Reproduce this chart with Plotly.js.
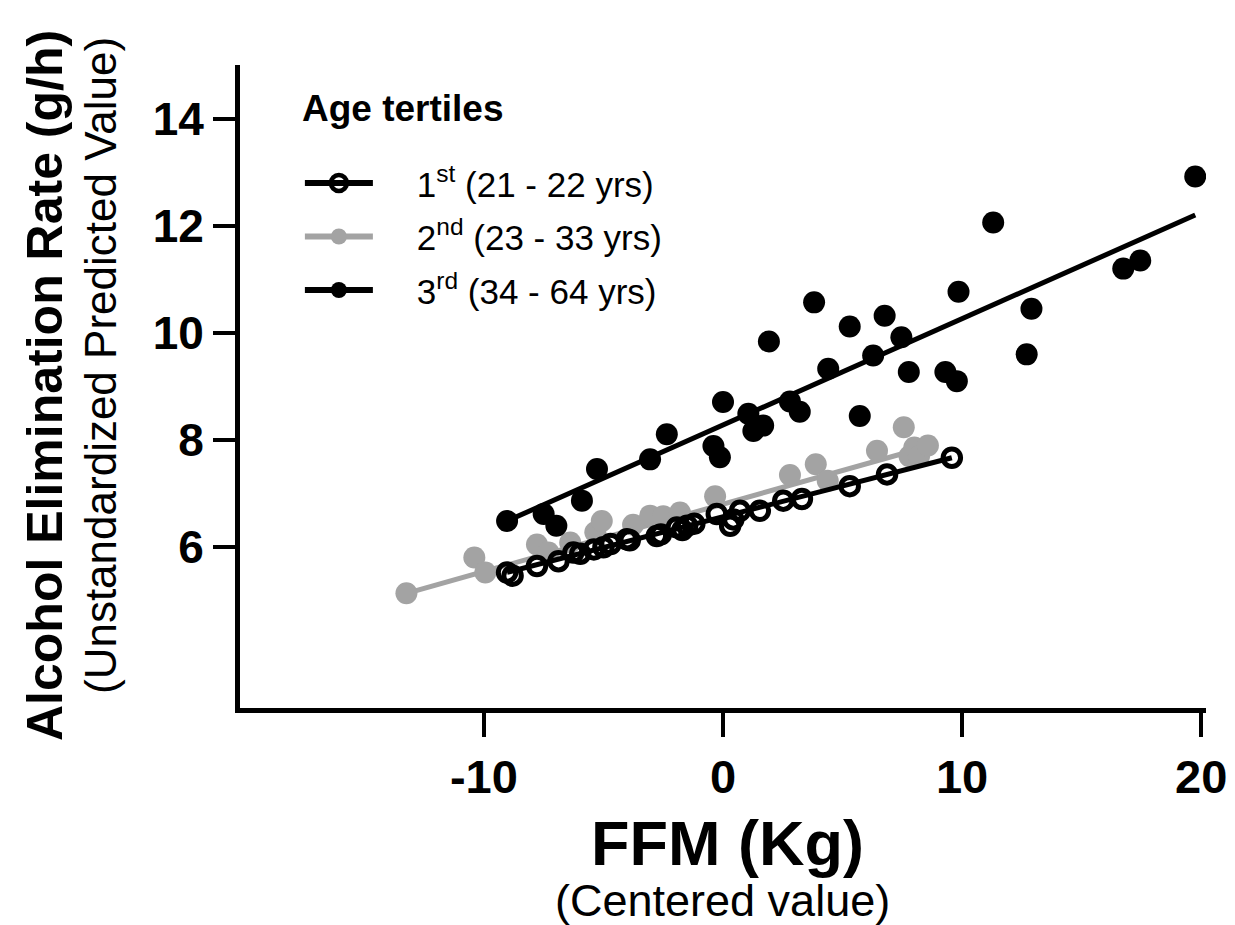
<!DOCTYPE html>
<html>
<head>
<meta charset="utf-8">
<script src="https://cdn.plot.ly/plotly-3.0.1.min.js"></script>
<style>html,body{margin:0;padding:0;background:#fff;}#chart{width:1235px;height:925px;}</style>
</head>
<body>
<div id="chart"></div>
<script>
// ---- Data ----
const seriesNames = ["1<sup>st</sup> (21 - 22 yrs)", "2<sup>nd</sup> (23 - 33 yrs)", "3<sup>rd</sup> (34 - 64 yrs)"];

const t1_x = [-9.03, -8.8, -7.78, -6.88, -6.26, -5.97, -5.4, -5.0, -4.7, -4.02, -3.9, -2.77, -2.6, -1.93, -1.7, -1.5, -1.2, -0.26, 0.3, 0.43, 0.71, 1.54, 2.52, 3.3, 5.3, 6.86, 9.57];
const t1_y = [5.53, 5.47, 5.65, 5.74, 5.9, 5.88, 5.96, 6.0, 6.06, 6.15, 6.13, 6.21, 6.24, 6.37, 6.32, 6.4, 6.44, 6.62, 6.4, 6.52, 6.68, 6.68, 6.87, 6.9, 7.14, 7.36, 7.67];

const t2_x = [-13.24, -10.4, -9.94, -7.78, -7.3, -6.39, -5.34, -5.07, -3.76, -3.05, -2.5, -1.8, -0.33, 2.8, 3.88, 4.38, 6.44, 7.56, 7.8, 8.0, 8.2, 8.57];
const t2_y = [5.14, 5.81, 5.53, 6.05, 5.9, 6.09, 6.28, 6.49, 6.42, 6.59, 6.58, 6.65, 6.95, 7.35, 7.55, 7.24, 7.8, 8.24, 7.7, 7.86, 7.7, 7.9];

const t3_x = [-9.03, -7.5, -6.97, -5.9, -5.27, -3.05, -2.35, -0.4, -0.13, 0.0, 1.06, 1.27, 1.68, 1.92, 2.8, 3.21, 3.81, 4.4, 5.3, 5.72, 6.28, 6.76, 7.46, 7.77, 9.3, 9.78, 9.85, 11.3, 12.7, 12.9, 16.74, 17.45, 19.75];
const t3_y = [6.49, 6.62, 6.4, 6.87, 7.46, 7.64, 8.11, 7.89, 7.68, 8.71, 8.49, 8.17, 8.27, 9.84, 8.72, 8.53, 10.57, 9.33, 10.12, 8.45, 9.58, 10.32, 9.92, 9.27, 9.27, 9.1, 10.77, 12.06, 9.6, 10.45, 11.2, 11.35, 12.92];

// Regression line end points
const fit1_x = [-9.03, 9.57], fit1_y = [5.53, 7.67];
const fit2_x = [-13.24, 8.57], fit2_y = [5.14, 7.88];
const fit3_x = [-9.03, 19.75], fit3_y = [6.49, 12.2];

const xTicks = [-10, 0, 10, 20];
const yTicks = [6, 8, 10, 12, 14];

// ---- Styles ----
const BLACK = "#000000";
const GREY = "#a3a3a3";
const FONT = "Arial, 'Liberation Sans', sans-serif";
const PAD = "&nbsp;&nbsp;&nbsp;&nbsp;";

const traces = [
  {x: fit2_x, y: fit2_y, mode: "lines", line: {color: GREY, width: 5}, showlegend: false, hoverinfo: "skip"},
  {x: t2_x, y: t2_y, mode: "markers", marker: {symbol: "circle", size: 22, color: GREY}, showlegend: false},
  {x: fit1_x, y: fit1_y, mode: "lines", line: {color: BLACK, width: 5}, showlegend: false, hoverinfo: "skip"},
  {x: t1_x, y: t1_y, mode: "markers", marker: {symbol: "circle-open", size: 17.5, color: BLACK, line: {width: 5, color: BLACK}}, showlegend: false},
  {x: fit3_x, y: fit3_y, mode: "lines", line: {color: BLACK, width: 5}, showlegend: false, hoverinfo: "skip"},
  {x: t3_x, y: t3_y, mode: "markers", marker: {symbol: "circle", size: 22, color: BLACK}, showlegend: false},
  // legend entries
  {x: [null], y: [null], name: PAD + seriesNames[0], legendgroup: "g1", mode: "lines+markers", line: {color: BLACK, width: 6}, marker: {symbol: "circle-open", size: 16, color: BLACK, line: {width: 4.5, color: BLACK}}, legendrank: 1},
  {x: [null], y: [null], name: PAD + seriesNames[1], legendgroup: "g2", mode: "lines+markers", line: {color: GREY, width: 6}, marker: {symbol: "circle", size: 16, color: GREY}, legendrank: 2},
  {x: [null], y: [null], name: PAD + seriesNames[2], legendgroup: "g3", mode: "lines+markers", line: {color: BLACK, width: 6}, marker: {symbol: "circle", size: 16, color: BLACK}, legendrank: 3}
];

const layout = {
  width: 1235, height: 925,
  margin: {l: 240, r: 29, t: 65, b: 217},
  paper_bgcolor: "#fff", plot_bgcolor: "#fff",
  font: {family: FONT, color: BLACK},
  showlegend: true,
  legend: {x: 0.062, xanchor: "left", y: 0.862, yanchor: "top", font: {size: 35, family: FONT, color: BLACK}, itemwidth: 68, bgcolor: "rgba(0,0,0,0)", traceorder: "grouped", tracegroupgap: 5},
  xaxis: {
    range: [-20.2, 20.2], tickvals: xTicks, ticktext: xTicks.map(String),
    showgrid: false, zeroline: false, showline: true, linecolor: BLACK, linewidth: 5,
    ticks: "outside", ticklen: 24, tickwidth: 4, tickcolor: BLACK,
    tickfont: {size: 47, family: FONT, weight: "bold", color: BLACK}
  },
  yaxis: {
    range: [3, 15], tickvals: yTicks, ticktext: yTicks.map(String),
    showgrid: false, zeroline: false, showline: true, linecolor: BLACK, linewidth: 5,
    ticks: "outside", ticklen: 22, tickwidth: 4, tickcolor: BLACK,
    tickfont: {size: 46, family: FONT, weight: "bold", color: BLACK}
  },
  annotations: [
    {text: "Age tertiles", xref: "paper", yref: "paper", x: 0.062, y: (708 - 108) / 643, xanchor: "left", yanchor: "middle", showarrow: false, font: {size: 37, family: FONT, weight: "bold", color: BLACK}},
    {text: "Alcohol Elimination Rate (g/h)", xref: "paper", yref: "paper", x: (45 - 240) / 966, y: (708 - 386) / 643, textangle: -90, xanchor: "center", yanchor: "middle", showarrow: false, font: {size: 50, family: FONT, weight: "bold", color: BLACK}},
    {text: "(Unstandardized Predicted Value)", xref: "paper", yref: "paper", x: (100 - 240) / 966, y: (708 - 366) / 643, textangle: -90, xanchor: "center", yanchor: "middle", showarrow: false, font: {size: 44, family: FONT, color: BLACK}},
    {text: "FFM (Kg)", xref: "paper", yref: "paper", x: (727 - 240) / 966, y: (708 - 843) / 643, xanchor: "center", yanchor: "middle", showarrow: false, font: {size: 63, family: FONT, weight: "bold", color: BLACK}},
    {text: "(Centered value)", xref: "paper", yref: "paper", x: (722 - 240) / 966, y: (708 - 900) / 643, xanchor: "center", yanchor: "middle", showarrow: false, font: {size: 45, family: FONT, color: BLACK}}
  ]
};

Plotly.newPlot("chart", traces, layout, {displayModeBar: false, staticPlot: true});
</script>
</body>
</html>
